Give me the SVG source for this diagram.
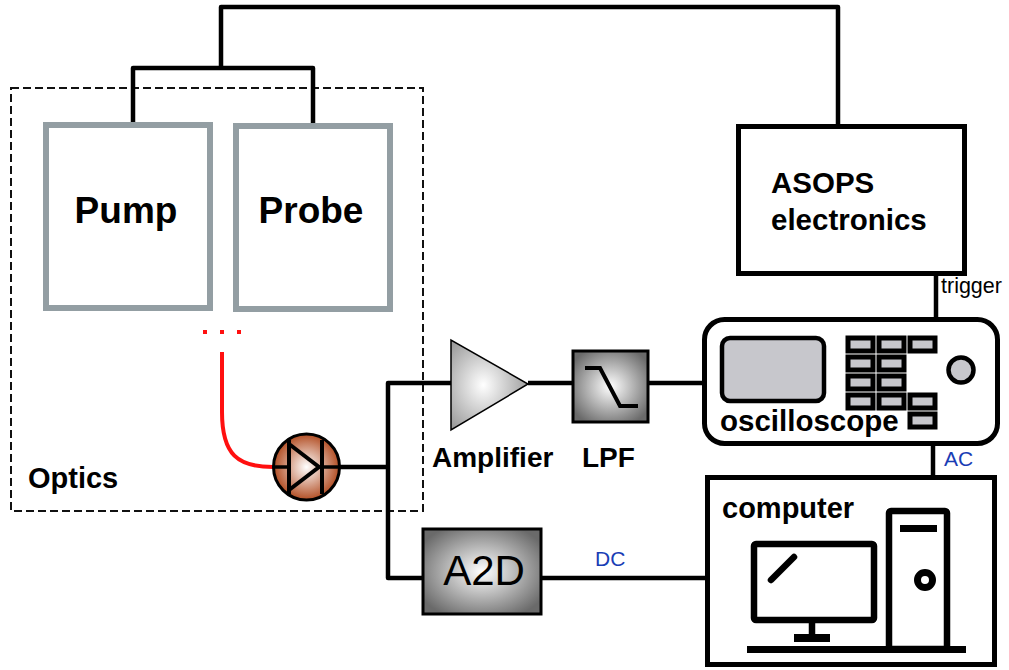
<svg xmlns="http://www.w3.org/2000/svg" width="1009" height="670" viewBox="0 0 1009 670">
  <defs>
    <radialGradient id="gMetal" cx="0.5" cy="0.5" r="0.6">
      <stop offset="0" stop-color="#ffffff"/>
      <stop offset="1" stop-color="#6a6a6a"/>
    </radialGradient>
    <radialGradient id="gAmp" cx="0.42" cy="0.5" r="0.6">
      <stop offset="0" stop-color="#ffffff"/>
      <stop offset="1" stop-color="#9c9c9c"/>
    </radialGradient>
    <radialGradient id="gDiode" cx="0.5" cy="0.5" r="0.5">
      <stop offset="0" stop-color="#ffffff"/>
      <stop offset="1" stop-color="#b24e24"/>
    </radialGradient>
  </defs>
  <style>
    .wire { fill: none; stroke: #000; stroke-width: 4.5; stroke-linejoin: round; }
    .laser { fill: #fff; stroke: #939ea3; stroke-width: 6; }
    .box { fill: #fff; stroke: #000; stroke-width: 5; }
    .bold { font-family: "Liberation Sans", Arial, sans-serif; font-weight: bold; fill: #000; }
    .small { font-family: "Liberation Sans", Arial, sans-serif; fill: #000; }
    .sig { font-family: "Liberation Sans", Arial, sans-serif; fill: #1a3db5; font-size: 21px; }
    .btn { fill: #c7c7cc; stroke: #000; stroke-width: 5; }
    .pc { fill: none; stroke: #000; stroke-width: 6.5; stroke-linejoin: round; }
  </style>

  <!-- optics enclosure -->
  <g id="optics">
    <rect x="11" y="88" width="412" height="423" fill="none" stroke="#111" stroke-width="2" stroke-dasharray="8,4"/>
    <text class="bold" x="28" y="488" font-size="29">Optics</text>
  </g>

  <!-- connectors -->
  <g id="connectors">
    <polyline class="wire" points="133,124 133,68 313,68 313,124"/>
    <polyline class="wire" points="221,68 221,7 838,7 838,126"/>
    <line class="wire" x1="936" y1="274" x2="936" y2="319"/>
    <line class="wire" x1="933" y1="444" x2="933" y2="477"/>
    <line class="wire" x1="340" y1="467" x2="388" y2="467"/>
    <polyline class="wire" points="451,383 388,383 388,578 422,578"/>
    <line class="wire" x1="528" y1="383" x2="572" y2="383"/>
    <line class="wire" x1="648" y1="383" x2="704" y2="383"/>
    <line class="wire" x1="541" y1="578" x2="707" y2="578"/>
    <!-- optical fibre -->
    <path d="M222,352 L222,412 C222,455 238,467 273,467" fill="none" stroke="#ff1010" stroke-width="4"/>
    <g fill="#ff1010">
      <rect x="203" y="330" width="4" height="4"/>
      <rect x="220" y="330" width="4" height="4"/>
      <rect x="237" y="330" width="4" height="4"/>
    </g>
    <text class="small" x="941" y="293" font-size="21.5">trigger</text>
    <text class="sig" x="944" y="466">AC</text>
    <text class="sig" x="595" y="566">DC</text>
  </g>

  <g id="pump">
    <rect class="laser" x="46" y="125" width="164" height="183"/>
    <text class="bold" x="126" y="223" font-size="37" text-anchor="middle">Pump</text>
  </g>

  <g id="probe">
    <rect class="laser" x="236" y="126" width="154" height="183"/>
    <text class="bold" x="311" y="223" font-size="37" text-anchor="middle">Probe</text>
  </g>

  <g id="photodiode">
    <circle cx="306.5" cy="467" r="33" fill="url(#gDiode)" stroke="#000" stroke-width="3"/>
    <line x1="274" y1="467" x2="288" y2="467" stroke="#000" stroke-width="3.5"/>
    <line x1="321" y1="467" x2="340" y2="467" stroke="#000" stroke-width="3.5"/>
    <polygon points="289,444 289,490 319,467" fill="none" stroke="#000" stroke-width="4" stroke-linejoin="miter"/>
    <line x1="289" y1="440" x2="289" y2="494" stroke="#000" stroke-width="4"/>
    <line x1="322" y1="440" x2="322" y2="494" stroke="#000" stroke-width="4"/>
  </g>

  <g id="amplifier">
    <polygon points="451,340 451,430 528,384" fill="url(#gAmp)" stroke="#000" stroke-width="1.5"/>
    <text class="bold" x="432" y="467" font-size="28">Amplifier</text>
  </g>

  <g id="lpf">
    <rect x="573" y="351" width="75" height="71" fill="url(#gMetal)" stroke="#000" stroke-width="3"/>
    <polyline points="585,368 600,368 620,406 638,406" fill="none" stroke="#000" stroke-width="4"/>
    <text class="bold" x="582" y="467" font-size="28">LPF</text>
  </g>

  <g id="a2d">
    <rect x="423" y="529" width="118" height="85" fill="url(#gMetal)" stroke="#000" stroke-width="3"/>
    <text class="small" x="484" y="585" font-size="42" text-anchor="middle">A2D</text>
  </g>

  <g id="asops">
    <rect class="box" x="738.5" y="126.5" width="226" height="147"/>
    <text class="bold" x="771" y="193" font-size="29.5">ASOPS</text>
    <text class="bold" x="771" y="230" font-size="29.5">electronics</text>
  </g>

  <g id="oscilloscope">
    <rect class="box" x="704.5" y="319.5" width="293" height="124" rx="20"/>
    <rect x="722" y="338" width="102" height="63" rx="8" fill="#c7c7cc" stroke="#000" stroke-width="4.5"/>
    <g>
      <rect class="btn" x="848" y="338" width="25" height="13"/>
      <rect class="btn" x="879" y="338" width="25" height="13"/>
      <rect class="btn" x="910" y="338" width="25" height="13"/>
      <rect class="btn" x="848" y="357" width="25" height="13"/>
      <rect class="btn" x="879" y="357" width="25" height="13"/>
      <rect class="btn" x="848" y="376" width="25" height="13"/>
      <rect class="btn" x="879" y="376" width="25" height="13"/>
      <rect class="btn" x="848" y="395" width="25" height="13"/>
      <rect class="btn" x="879" y="395" width="25" height="13"/>
      <rect class="btn" x="910" y="395" width="25" height="13"/>
      <rect class="btn" x="910" y="414" width="25" height="13"/>
    </g>
    <circle cx="961" cy="370" r="12.5" fill="#c7c7cc" stroke="#000" stroke-width="4.5"/>
    <text class="bold" x="720" y="431" font-size="29.5">oscilloscope</text>
  </g>

  <g id="computer">
    <rect class="box" x="707.5" y="477.5" width="287" height="187"/>
    <text class="bold" x="722" y="518" font-size="29">computer</text>
    <rect class="pc" x="754" y="544" width="120" height="76" rx="2"/>
    <line x1="771" y1="580" x2="794" y2="557" stroke="#000" stroke-width="6.5" stroke-linecap="round"/>
    <line x1="812" y1="620" x2="812" y2="636" stroke="#000" stroke-width="6.5"/>
    <rect x="794" y="634" width="36" height="8" fill="#000"/>
    <rect class="pc" x="889" y="511" width="58" height="138" rx="2"/>
    <rect x="900" y="525" width="37" height="7" fill="#000"/>
    <circle cx="925" cy="580" r="7.5" fill="none" stroke="#000" stroke-width="7"/>
    <rect x="747" y="646" width="219" height="7" fill="#000"/>
  </g>
</svg>
